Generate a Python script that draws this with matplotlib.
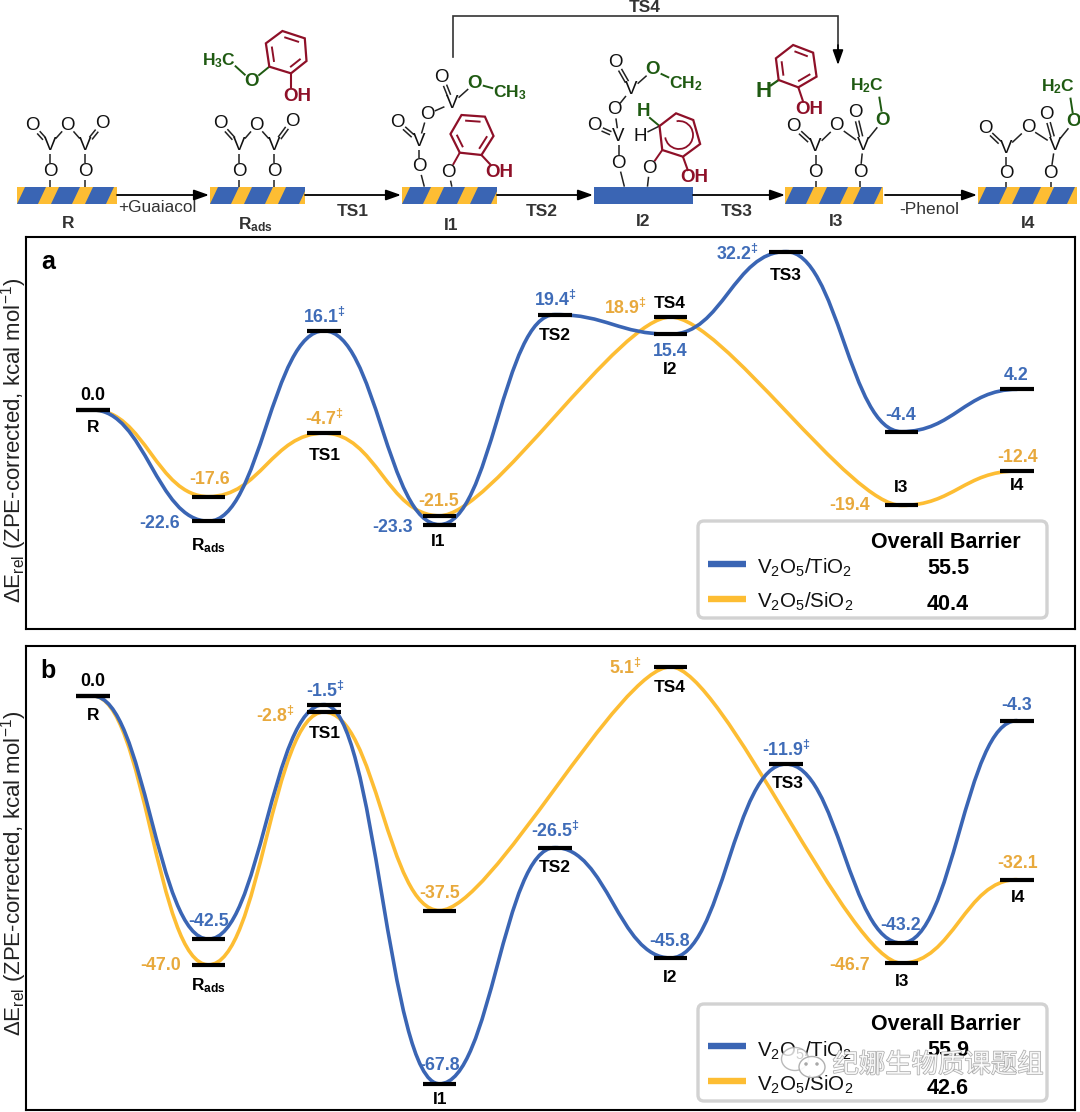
import matplotlib
matplotlib.use("Agg")
import matplotlib.pyplot as plt
import matplotlib.patheffects as pe
from matplotlib.path import Path
from matplotlib.patches import PathPatch, Polygon, Rectangle, FancyBboxPatch, Arc, Ellipse
import numpy as np

plt.rcParams['font.family'] = ['Liberation Sans', 'DejaVu Sans']
plt.rcParams['mathtext.fontset'] = 'custom'
plt.rcParams['mathtext.rm'] = 'Liberation Sans'
plt.rcParams['mathtext.bf'] = 'Liberation Sans:bold'
plt.rcParams['mathtext.it'] = 'Liberation Sans:italic'
plt.rcParams['mathtext.default'] = 'regular'

# ---------- data ----------
states = ['R', 'Rads', 'TS1', 'I1', 'TS2', 'I2', 'TS3', 'I3', 'I4']
series_labels = ['V$_2$O$_5$/TiO$_2$', 'V$_2$O$_5$/SiO$_2$']

ti_pos = [0, 1, 2, 3, 4, 5, 6, 7, 8]
si_pos = [0, 1, 2, 3, 5, 7, 8]      # the SiO2 path goes I1 -> TS4 -> I3

a_ti = [0.0, -22.6, 16.1, -23.3, 19.4, 15.4, 32.2, -4.4, 4.2]
a_si = [0.0, -17.6, -4.7, -21.5, 18.9, -19.4, -12.4]
b_ti = [0.0, -42.5, -1.5, -67.8, -26.5, -45.8, -11.9, -43.2, -4.3]
b_si = [0.0, -47.0, -2.8, -37.5, 5.1, -46.7, -32.1]

a_barrier = [55.5, 40.4]
b_barrier = [55.9, 42.6]

# ---------- styles ----------
BLUE = '#3a65b4'
YEL = '#fdbd33'
BLUE_T = '#3f6cb8'
YEL_T = '#e8a93c'
RED = '#8e1028'
GREEN = '#1f5a12'
DARK = '#222222'

fig = plt.figure(figsize=(10.8, 11.12), dpi=100, facecolor='white')
W, H = 1080.0, 1112.0


def px_axes(x0, y0, x1, y1, **kw):
    return fig.add_axes([x0 / W, 1 - y1 / H, (x1 - x0) / W, (y1 - y0) / H], **kw)


ov = fig.add_axes([0, 0, 1, 1], zorder=5)
ov.set_xlim(0, W)
ov.set_ylim(H, 0)
ov.axis('off')
ov.patch.set_alpha(0)

# ---------- energy panels ----------
X0, DX = 93.0, 115.5
CTRL = 0.45


def panel(box, y_zero, scale, ti, si):
    x0, y0, x1, y1 = box
    ax = px_axes(*box)
    ax.set_xlim((x0 - X0) / DX, (x1 - X0) / DX)
    ax.set_ylim((y_zero - y1) / scale, (y_zero - y0) / scale)
    ax.set_xticks([])
    ax.set_yticks([])
    for s in ax.spines.values():
        s.set_linewidth(1.5)
    for pos, vals, col, z in ((si_pos, si, YEL, 2), (ti_pos, ti, BLUE, 3)):
        verts, codes = [(pos[0], vals[0])], [Path.MOVETO]
        for i in range(len(pos) - 1):
            verts += [(pos[i] + CTRL, vals[i]), (pos[i + 1] - CTRL, vals[i + 1]), (pos[i + 1], vals[i + 1])]
            codes += [Path.CURVE4] * 3
        ax.add_patch(PathPatch(Path(verts, codes), fc='none', ec=col, lw=2.6, zorder=z, capstyle='round'))
        ax.hlines(vals, np.array(pos) - 0.147, np.array(pos) + 0.147, color='black', lw=3.0, zorder=4)
    return ax


ax_a = panel((26, 237, 1075, 629), 410, 4.92, a_ti, a_si)
ax_b = panel((26, 646, 1075, 1110), 696, 5.72, b_ti, b_si)

YLAB = 'ΔE$_{rel}$ (ZPE-corrected, kcal mol$^{-1}$)'
for yc in (440, 873):
    ov.text(14, yc, YLAB, rotation=90, fontsize=16.0, ha='center', va='center', color='#222222')


def t(x, y, s, size=12.5, color='black', weight='bold', ax=ov, **kw):
    ax.text(x, y, s, fontsize=size, color=color, fontweight=weight,
            ha=kw.pop('ha', 'center'), va=kw.pop('va', 'center'), **kw)


DAG = r'$^{\ddag}$'
RADS = r'$\mathbf{R_{ads}}$'
# value label positions (pixels)
a_ti_xy = [(93, 395), (160, 523), (324, 317), (393, 527), (555, 300), (670, 351), (737, 254), (901, 415), (1016, 375)]
a_si_xy = [None, (210, 480), (324, 419), (439, 502), (625, 308), (850, 506), (1018, 457)]
b_ti_xy = [(93, 682), (209, 921), (325, 691), (440, 1065), (555, 831), (670, 942), (786, 750), (901, 926), (1017, 705)]
b_si_xy = [None, (161, 966), (275, 716), (440, 893), (625, 668), (850, 966), (1018, 864)]
a_ti_dag = {2, 4, 6}
a_si_dag = {2, 4}
b_ti_dag = {2, 4, 6}
b_si_dag = {2, 4}

for vals, xy, dag, col in ((a_ti, a_ti_xy, a_ti_dag, BLUE_T), (a_si, a_si_xy, a_si_dag, YEL_T),
                           (b_ti, b_ti_xy, b_ti_dag, BLUE_T), (b_si, b_si_xy, b_si_dag, YEL_T)):
    for i, (v, p) in enumerate(zip(vals, xy)):
        if p is None:
            continue
        c = 'black' if v == 0 else col
        t(p[0], p[1], f'{v:.1f}' + (DAG if i in dag else ''), color=c, size=12.8)

a_names = [('R', 93, 428), (RADS, 209, 546), ('TS1', 325, 455), ('I1', 438, 542), ('TS2', 555, 335),
           ('I2', 670, 369), ('TS4', 670, 303), ('TS3', 786, 276), ('I3', 901, 488), ('I4', 1017, 486)]
b_names = [('R', 93, 716), (RADS, 209, 986), ('TS1', 325, 733), ('I1', 440, 1100), ('TS2', 555, 868),
           ('I2', 670, 978), ('TS4', 670, 688), ('TS3', 788, 783), ('I3', 902, 982), ('I4', 1018, 897)]
for s, x, y in a_names + b_names:
    t(x, y, s)

t(48, 262, 'a', size=18)
t(48, 671, 'b', size=18)


def legend_box(top, bottom, line_y, text_y, val_y, head_y, barriers):
    ov.add_patch(FancyBboxPatch((701, top + 4), 343, bottom - top - 8, boxstyle='round,pad=3,rounding_size=6',
                                fc='white', ec='#d2d2d2', lw=2.4, zorder=6))
    t(946, head_y, 'Overall Barrier', size=15.5, zorder=7)
    for i, col in enumerate((BLUE, YEL)):
        ov.plot([708, 746], [line_y[i]] * 2, color=col, lw=4.6, solid_capstyle='butt', zorder=7)
        t(757, text_y[i], series_labels[i], size=14.8, weight='normal', ha='left', zorder=7, color='#111111')
        t(948, val_y[i], f'{barriers[i]:.1f}', size=15.5, zorder=7)


legend_box(520, 619, (564, 599), (568, 602), (569, 605), 542, a_barrier)
legend_box(1003, 1102, (1046, 1081), (1051, 1085), (1051, 1088), 1025, b_barrier)

# ---------- schematic (coordinates in pixels) ----------
SX = 1.0332 / 3


def LP(x, y):
    return (x * SX, y / 3)


def RP(x, y):
    return (540 + x * SX, y / 3)


def slab(x0, x1, striped=True):
    y0, y1 = 187, 204
    patch = Rectangle((x0, y0), x1 - x0, y1 - y0, fc=BLUE, ec='none', zorder=2)
    ov.add_patch(patch)
    if striped:
        for k in range(-1, 4):
            b = x0 + 21 + 34 * k
            poly = Polygon([(b, y1), (b + 13, y1), (b + 21, y0), (b + 8, y0)], fc=YEL, ec='none', zorder=3)
            ov.add_patch(poly)
            poly.set_clip_path(patch)


for a_, b_, s_ in ((17, 117, True), (210, 305, True), (402, 497, True), (594, 693, False), (785, 883, True), (978, 1077, True)):
    slab(a_, b_, s_)


def arrow(x0, x1, y=195):
    ov.annotate('', xy=(x1, y), xytext=(x0, y),
                arrowprops=dict(arrowstyle='-|>,head_length=0.9,head_width=0.32', color='black', lw=1.3,
                                shrinkA=0, shrinkB=0))


for a_, b_ in ((117, 209), (305, 401), (497, 593), (693, 785), (885, 977)):
    arrow(a_, b_)

t(157, 208, '+Guaiacol', size=12.4, weight='normal', color='#333333')
t(353, 212, 'TS1', size=12.5, color='#333333')
t(542, 212, 'TS2', size=12.5, color='#333333')
t(737, 211, 'TS3', size=12.5, color='#333333')
t(929, 209, '-Phenol', size=12.5, weight='normal', color='#333333')
for s, x, y in (('R', 68, 224), (r'$\mathbf{R_{ads}}$', 256, 225), ('I1', 451, 225), ('I2', 643, 222),
                ('I3', 836, 222), ('I4', 1028, 224)):
    t(x, y, s, size=12.5, color='#333333')

# TS4 bracket
ov.plot([453, 453, 838, 838], [57, 16, 16, 50], color='#333333', lw=1.2, solid_joinstyle='miter')
ov.annotate('', xy=(838, 65), xytext=(838, 45),
            arrowprops=dict(arrowstyle='-|>,head_length=0.9,head_width=0.32', color='black', lw=1.2, shrinkA=0, shrinkB=0))
t(645, 7, 'TS4', size=12.5, color='#333333')


def bond(p, q, col=DARK, lw=1.1, double=False, gap_a=0, gap_b=0):
    p, q = np.array(p, float), np.array(q, float)
    d = q - p
    n = np.hypot(*d)
    u = d / n
    a = p + u * gap_a
    b = q - u * gap_b
    if double:
        perp = np.array([-u[1], u[0]]) * 1.7
        for sgn in (1, -1):
            ov.plot([a[0] + sgn * perp[0], b[0] + sgn * perp[0]], [a[1] + sgn * perp[1], b[1] + sgn * perp[1]],
                    color=col, lw=lw, solid_capstyle='butt')
    else:
        ov.plot([a[0], b[0]], [a[1], b[1]], color=col, lw=lw, solid_capstyle='butt')


def atom(p, s='O', col='#111111', size=13.5, weight='normal'):
    ov.text(p[0], p[1], s, fontsize=size, color=col, ha='center', va='center', fontweight=weight, zorder=4)


GAP = 8.5


def unit(T, tl, br, tr, v1, v2, o1, o2, a1, a2):
    """Two-vanadium motif: terminal O, bridging O, terminal O, V, V, support O, anchors."""
    pts = [T(*tl), T(*br), T(*tr), T(*v1), T(*v2), T(*o1), T(*o2)]
    for p, s in zip(pts, 'OOOVVOO'):
        atom(p, s)
    bond(pts[0], pts[3], double=True, gap_a=GAP, gap_b=GAP)
    bond(pts[1], pts[3], gap_a=GAP, gap_b=GAP)
    bond(pts[1], pts[4], gap_a=GAP, gap_b=GAP)
    bond(pts[3], pts[5], gap_a=GAP, gap_b=GAP)
    bond(pts[4], pts[6], gap_a=GAP, gap_b=GAP)
    bond(pts[5], T(*a1), gap_a=GAP)
    bond(pts[6], T(*a2), gap_a=GAP)
    return pts


def ring(T, verts, col=RED, doubles=(0, 2, 4), shrink=0.72):
    v = [T(*p) for p in verts]
    ov.add_patch(Polygon(v, closed=True, fc='none', ec=col, lw=1.6, zorder=3))
    c = np.mean(v, axis=0)
    for i in doubles:
        p = np.array(v[i])
        q = np.array(v[(i + 1) % 6])
        pi = c + (p - c) * shrink
        qi = c + (q - c) * shrink
        mi = (pi + qi) / 2
        pi = mi + (pi - mi) * 0.8
        qi = mi + (qi - mi) * 0.8
        ov.plot([pi[0], qi[0]], [pi[1], qi[1]], color=col, lw=1.4)
    return v


# R
pts = unit(LP, (95, 378), (197, 375), (297, 372), (145, 435), (248, 435), (145, 515), (248, 515), (145, 562), (248, 562))
bond(pts[2], pts[4], double=True, gap_a=GAP, gap_b=GAP)
# Rads
pts = unit(LP, (640, 372), (745, 375), (848, 363), (695, 435), (797, 435), (695, 515), (797, 515), (695, 562), (797, 562))
bond(pts[2], pts[4], double=True, gap_a=GAP, gap_b=GAP)
v = ring(LP, [(820, 93), (885, 115), (890, 183), (845, 220), (782, 200), (772, 130)])
atom(LP(731, 243), 'O', GREEN, size=13.5, weight='bold')
atom(LP(637, 183), 'H$_3$C', GREEN, size=12.5, weight='bold')
bond(LP(682, 197), LP(731, 243), GREEN, 1.4, gap_b=GAP)
bond(LP(731, 243), v[4], GREEN, 1.4, gap_a=GAP)
atom(LP(863, 290), 'OH', RED, size=13.5, weight='bold')
bond(v[3], LP(845, 265), RED, 1.5)

# I1
o_t, v1, o_s, o_b, v2, o_u, o_m = LP(1155, 367), LP(1217, 425), LP(1217, 500), LP(1240, 343), LP(1313, 310), LP(1283, 232), LP(1378, 250)
for p, s in ((o_t, 'O'), (v1, 'V'), (o_s, 'O'), (o_b, 'O'), (v2, 'V'), (o_u, 'O')):
    atom(p, s)
atom(o_m, 'O', GREEN, weight='bold')
bond(o_t, v1, double=True, gap_a=GAP, gap_b=GAP)
bond(v1, o_s, gap_a=GAP, gap_b=GAP)
bond(v1, o_b, gap_a=GAP, gap_b=GAP)
bond(o_b, v2, gap_a=GAP, gap_b=GAP)
bond(v2, o_u, double=True, gap_a=GAP, gap_b=GAP)
bond(v2, o_m, gap_a=GAP, gap_b=GAP)
atom(LP(1480, 277), 'CH$_3$', GREEN, size=12.5, weight='bold')
bond(o_m, LP(1432, 265), GREEN, 1.4, gap_a=GAP)
bond(o_s, LP(1232, 560), gap_a=GAP)
v = ring(LP, [(1340, 345), (1408, 350), (1433, 408), (1398, 465), (1335, 458), (1308, 402)])
o_r = LP(1303, 517)
atom(o_r, 'O')
bond(v[4], o_r, RED, 1.4, gap_b=GAP)
bond(o_r, LP(1312, 560), gap_a=GAP)
atom(LP(1450, 518), 'OH', RED, size=13.5, weight='bold')
bond(v[3], LP(1425, 495), RED, 1.5)

# I2
o_u, o_m, v2, o_b, o_t, v1, o_s = RP(220, 187), RP(328, 210), RP(265, 268), RP(217, 330), RP(158, 378), RP(228, 410), RP(228, 490)
for p, s in ((o_u, 'O'), (v2, 'V'), (o_b, 'O'), (o_t, 'O'), (v1, 'V'), (o_s, 'O')):
    atom(p, s)
atom(o_m, 'O', GREEN, weight='bold')
bond(o_u, v2, double=True, gap_a=GAP, gap_b=GAP)
bond(o_m, v2, gap_a=GAP, gap_b=GAP)
bond(v2, o_b, gap_a=GAP, gap_b=GAP)
bond(o_b, v1, gap_a=GAP, gap_b=GAP)
bond(o_t, v1, double=True, gap_a=GAP, gap_b=GAP)
bond(v1, o_s, gap_a=GAP, gap_b=GAP)
bond(o_s, RP(245, 560), gap_a=GAP)
atom(RP(422, 250), 'CH$_2$', GREEN, size=12.5, weight='bold')
bond(o_m, RP(375, 233), GREEN, 1.4, gap_a=GAP)
v = ring(RP, [(395, 340), (445, 360), (465, 432), (415, 470), (355, 450), (347, 378)], doubles=())
c = np.mean(v, axis=0)
ov.add_patch(Arc(c, 28, 28, angle=0, theta1=-100, theta2=170, ec=RED, lw=1.3, zorder=3))
o_r = RP(318, 505)
atom(o_r, 'O')
bond(v[4], o_r, RED, 1.4, gap_b=GAP)
bond(o_r, RP(312, 560), gap_a=GAP)
atom(RP(448, 533), 'OH', RED, size=13.5, weight='bold')
bond(v[3], RP(430, 513), RED, 1.5)
atom(RP(300, 335), 'H', GREEN, weight='bold')
bond(v[5], RP(317, 352), GREEN, 1.4)
atom(RP(290, 410), 'H')
bond(v[5], RP(312, 396), '#222222', 1.1)

# I3
pts = unit(RP, (737, 380), (862, 378), (915, 338), (800, 440), (938, 435), (800, 517), (930, 517), (800, 562), (930, 562))
bond(pts[2], pts[4], double=True, gap_a=GAP, gap_b=GAP)
o_g = RP(995, 362)
atom(o_g, 'O', GREEN, weight='bold')
bond(o_g, pts[4], gap_a=GAP, gap_b=GAP)
atom(RP(950, 257), 'H$_2$C', GREEN, size=12.5, weight='bold')
bond(RP(985, 290), RP(992, 335), GREEN, 1.4)
v = ring(RP, [(735, 135), (793, 158), (803, 230), (750, 262), (693, 240), (685, 175)])
atom(RP(782, 330), 'OH', RED, size=13.5, weight='bold')
bond(v[3], RP(765, 308), RED, 1.5)
atom(RP(650, 275), 'H', GREEN, size=16, weight='bold')
bond(v[4], RP(668, 258), GREEN, 1.6)

# I4
pts = unit(RP, (1292, 385), (1417, 383), (1470, 343), (1353, 445), (1495, 435), (1353, 520), (1483, 520), (1353, 562), (1483, 562))
bond(pts[2], pts[4], double=True, gap_a=GAP, gap_b=GAP)
o_g = RP(1550, 365)
atom(o_g, 'O', GREEN, weight='bold')
bond(o_g, pts[4], gap_a=GAP, gap_b=GAP)
atom(RP(1505, 260), 'H$_2$C', GREEN, size=12.5, weight='bold')
bond(RP(1540, 293), RP(1547, 340), GREEN, 1.4)

# ---------- watermark ----------
halo = [pe.withStroke(linewidth=1.0, foreground='#9a9a9a')]
ov.text(938, 1065, '纪娜生物质课题组', fontsize=19.0, color='white', ha='center', va='center', zorder=9,
        family=['Noto Sans CJK SC', 'DejaVu Sans'], path_effects=halo, alpha=0.85)
ov.add_patch(Ellipse((795, 1059), 27, 23, fc='white', ec='#a8a8a8', lw=1, alpha=0.8, zorder=9))
ov.add_patch(Ellipse((812, 1067), 26, 21, fc='white', ec='#a8a8a8', lw=1, alpha=0.9, zorder=9))
for ex, ey in ((806, 1064), (817, 1064)):
    ov.add_patch(Ellipse((ex, ey), 3.5, 3.5, fc='#a8a8a8', ec='none', zorder=10))

fig.savefig('out.png', dpi=100, facecolor='white')
